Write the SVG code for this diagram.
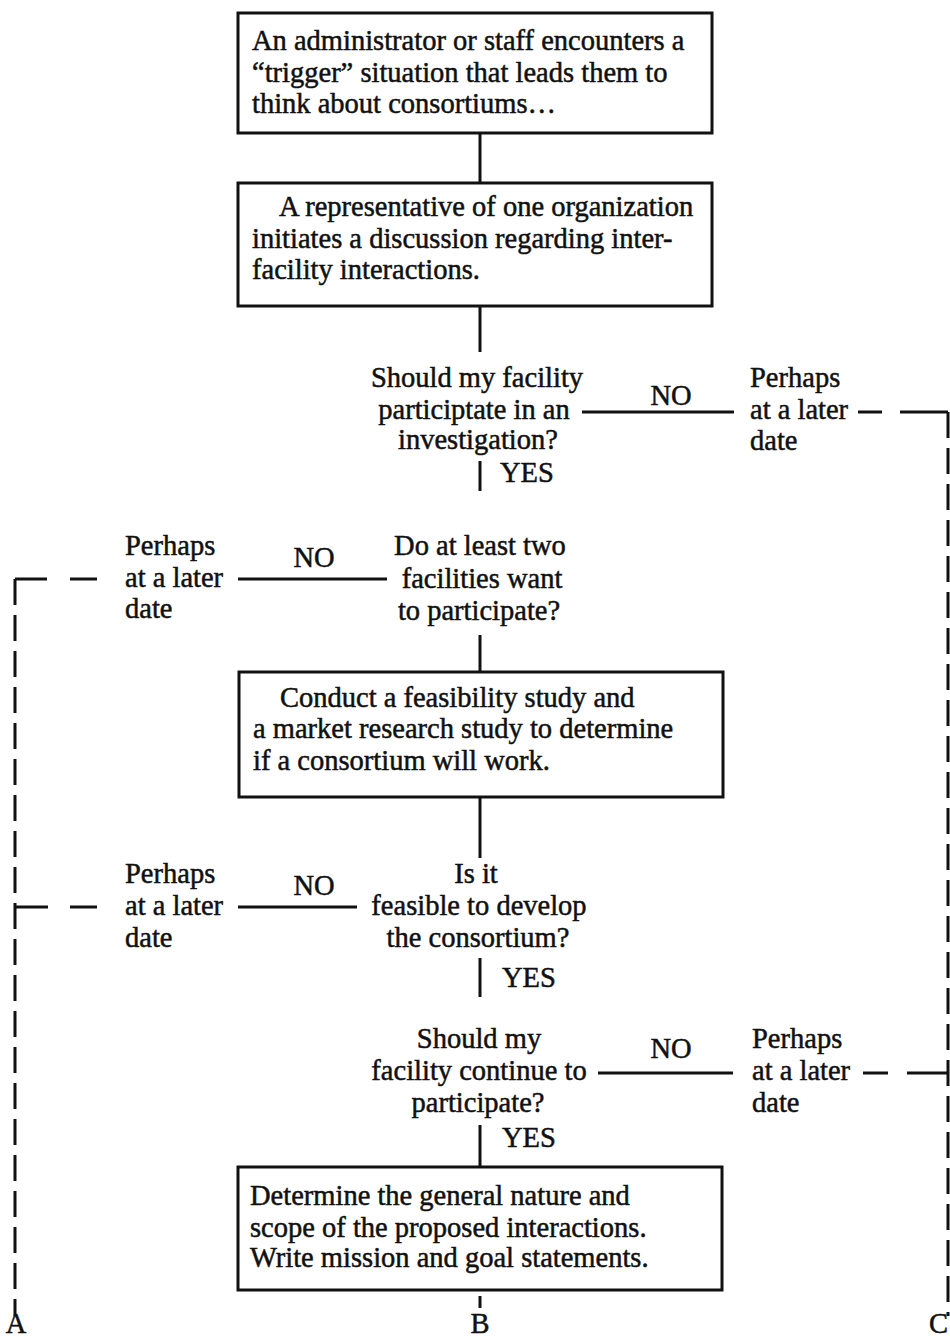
<svg xmlns="http://www.w3.org/2000/svg" width="950" height="1337" viewBox="0 0 950 1337">
<style>
.t{font-family:"Liberation Serif","Times New Roman",serif;font-size:28.5px;fill:#111;stroke:#111;stroke-width:0.5}
.c{text-anchor:middle}
.box{fill:#fff;stroke:#111;stroke-width:3}
.ln{stroke:#111;stroke-width:3;fill:none}
.dl{stroke:#111;stroke-width:3;fill:none;stroke-dasharray:26 10}
</style>
<rect width="950" height="1337" fill="#fff"/>
<g id="connectors">
<line class="ln" x1="480" y1="133" x2="480" y2="183"/>
<line class="ln" x1="480" y1="306" x2="480" y2="352"/>
<line class="ln" x1="582" y1="412" x2="734" y2="412"/>
<line class="ln" x1="858" y1="412" x2="882" y2="412"/>
<line class="ln" x1="900" y1="412" x2="948" y2="412"/>
<line class="dl" x1="948" y1="412" x2="948" y2="1316"/>
<line class="ln" x1="480" y1="461" x2="480" y2="491"/>
<line class="ln" x1="238" y1="579" x2="387" y2="579"/>
<line class="ln" x1="70" y1="579" x2="97" y2="579"/>
<line class="ln" x1="15" y1="579" x2="47" y2="579"/>
<line class="dl" x1="15" y1="579" x2="15" y2="1316"/>
<line class="ln" x1="480" y1="635" x2="480" y2="672"/>
<line class="ln" x1="480" y1="797" x2="480" y2="858"/>
<line class="ln" x1="238" y1="907" x2="357" y2="907"/>
<line class="ln" x1="70" y1="907" x2="97" y2="907"/>
<line class="ln" x1="15" y1="907" x2="48" y2="907"/>
<line class="ln" x1="480" y1="958" x2="480" y2="997"/>
<line class="ln" x1="598" y1="1073" x2="733" y2="1073"/>
<line class="ln" x1="863" y1="1073" x2="888" y2="1073"/>
<line class="ln" x1="907" y1="1073" x2="948" y2="1073"/>
<line class="ln" x1="480" y1="1125" x2="480" y2="1167"/>
<line class="ln" x1="480" y1="1296" x2="480" y2="1308"/>
<text class="t c" x="671" y="405">NO</text>
<text class="t" x="500" y="482">YES</text>
<text class="t c" x="314" y="567">NO</text>
<text class="t c" x="314" y="895">NO</text>
<text class="t" x="502" y="987">YES</text>
<text class="t c" x="671" y="1058">NO</text>
<text class="t" x="502" y="1147">YES</text>
</g>
<g id="box1">
<rect class="box" x="238" y="13" width="474" height="120"/>
<text class="t" x="252" y="50">An administrator or staff encounters a</text>
<text class="t" x="252" y="82">“trigger” situation that leads them to</text>
<text class="t" x="252" y="113">think about consortiums…</text>
</g>
<g id="box2">
<rect class="box" x="238" y="183" width="474" height="123"/>
<text class="t" x="279" y="216">A representative of one organization</text>
<text class="t" x="252" y="248">initiates a discussion regarding inter-</text>
<text class="t" x="252" y="279">facility interactions.</text>
</g>
<g id="decision1">
<text class="t c" x="477" y="387">Should my facility</text>
<text class="t c" x="474" y="419">participtate in an</text>
<text class="t c" x="478" y="449">investigation?</text>
</g>
<g id="later1">
<text class="t" x="750" y="387">Perhaps</text>
<text class="t" x="750" y="419">at a later</text>
<text class="t" x="750" y="450">date</text>
</g>
<g id="decision2">
<text class="t c" x="480" y="555">Do at least two</text>
<text class="t c" x="482" y="588">facilities want</text>
<text class="t c" x="479" y="620">to participate?</text>
</g>
<g id="later2">
<text class="t" x="125" y="555">Perhaps</text>
<text class="t" x="125" y="587">at a later</text>
<text class="t" x="125" y="618">date</text>
</g>
<g id="box3">
<rect class="box" x="239" y="672" width="484" height="125"/>
<text class="t" x="280" y="707">Conduct a feasibility study and</text>
<text class="t" x="253" y="738">a market research study to determine</text>
<text class="t" x="253" y="770">if a consortium will work.</text>
</g>
<g id="decision3">
<text class="t c" x="476" y="883">Is it</text>
<text class="t c" x="479" y="915">feasible to develop</text>
<text class="t c" x="478" y="947">the consortium?</text>
</g>
<g id="later3">
<text class="t" x="125" y="883">Perhaps</text>
<text class="t" x="125" y="915">at a later</text>
<text class="t" x="125" y="947">date</text>
</g>
<g id="decision4">
<text class="t c" x="479" y="1048">Should my</text>
<text class="t c" x="479" y="1080">facility continue to</text>
<text class="t c" x="478" y="1112">participate?</text>
</g>
<g id="later4">
<text class="t" x="752" y="1048">Perhaps</text>
<text class="t" x="752" y="1080">at a later</text>
<text class="t" x="752" y="1112">date</text>
</g>
<g id="box4">
<rect class="box" x="238" y="1167" width="484" height="123"/>
<text class="t" x="250" y="1205">Determine the general nature and</text>
<text class="t" x="250" y="1237">scope of the proposed interactions.</text>
<text class="t" x="250" y="1267">Write mission and goal statements.</text>
</g>
<g id="labels">
<text class="t c" x="16" y="1333">A</text>
<text class="t c" x="480" y="1333">B</text>
<text class="t" x="929" y="1333">C</text>
</g>
</svg>
